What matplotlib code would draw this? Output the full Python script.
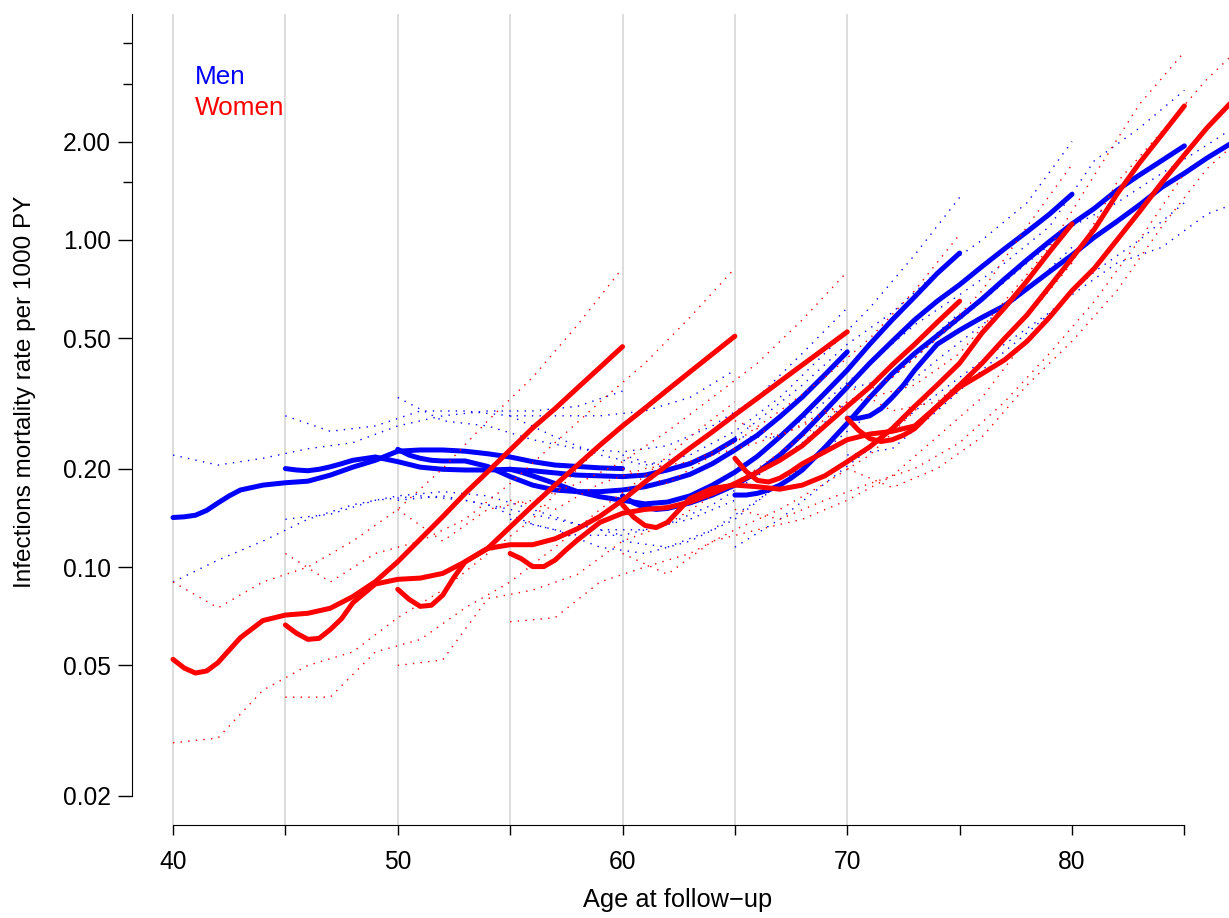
import numpy as np
import matplotlib
matplotlib.use("Agg")
import matplotlib.pyplot as plt

plt.rcParams['font.family'] = ['Liberation Sans', 'DejaVu Sans']

#------------------------------------------DATA-------------------------------------------
# age at entry of each curve (same for men and women)
starts = [40, 45, 50, 55, 60, 65, 70]

# years since entry at which the rates were read (half years at first, then whole years)
offs = [0, 0.5, 1, 1.5, 2, 2.5, 3] + list(range(4, 21))

# estimated rate per 1000 PY at age start + offs
men_rate = [
    [0.1417, 0.1424, 0.144, 0.149, 0.157, 0.165, 0.172, 0.178, 0.181, 0.183, 0.191, 0.202, 0.212, 0.226, 0.228, 0.228, 0.226, 0.222, 0.217, 0.210, 0.205, 0.203, 0.201, 0.200],
    [0.200, 0.198, 0.197, 0.199, 0.2025, 0.207, 0.212, 0.217, 0.210, 0.202, 0.199, 0.198, 0.198, 0.199, 0.197, 0.194, 0.191, 0.190, 0.189, 0.191, 0.198, 0.207, 0.223, 0.245],
    [0.229, 0.220, 0.215, 0.212, 0.211, 0.211, 0.211, 0.203, 0.189, 0.178, 0.172, 0.170, 0.170, 0.172, 0.176, 0.183, 0.192, 0.207, 0.228, 0.253, 0.288, 0.331, 0.387, 0.455],
    [0.199, 0.195, 0.190, 0.185, 0.180, 0.175, 0.170, 0.164, 0.160, 0.156, 0.158, 0.165, 0.178, 0.195, 0.218, 0.250, 0.290, 0.340, 0.400, 0.480, 0.570, 0.670, 0.790, 0.912],
    [0.165, 0.157, 0.152, 0.150, 0.151, 0.154, 0.157, 0.166, 0.178, 0.195, 0.220, 0.255, 0.300, 0.355, 0.420, 0.490, 0.570, 0.650, 0.730, 0.830, 0.940, 1.060, 1.200, 1.380],
    [0.166, 0.166, 0.168, 0.172, 0.178, 0.187, 0.198, 0.232, 0.275, 0.330, 0.390, 0.450, 0.510, 0.580, 0.660, 0.760, 0.870, 0.990, 1.120, 1.250, 1.420, 1.580, 1.750, 1.940],
    [0.285, 0.285, 0.290, 0.305, 0.330, 0.360, 0.400, 0.480, 0.530, 0.580, 0.630, 0.710, 0.800, 0.900, 1.020, 1.140, 1.280, 1.450, 1.600, 1.780, 1.960, 2.150],
]
women_rate = [
    [0.0522, 0.0491, 0.0474, 0.0481, 0.0510, 0.0557, 0.0608, 0.0686, 0.0713, 0.0722, 0.0748, 0.0812, 0.0902, 0.1038, 0.1216, 0.1425, 0.168, 0.1955, 0.228, 0.266, 0.305, 0.353, 0.408, 0.472],
    [0.0665, 0.0627, 0.0601, 0.0605, 0.0644, 0.0695, 0.0777, 0.0887, 0.0917, 0.0925, 0.0956, 0.1038, 0.114, 0.1325, 0.154, 0.178, 0.205, 0.236, 0.270, 0.306, 0.348, 0.395, 0.448, 0.508],
    [0.0855, 0.0797, 0.0758, 0.0764, 0.0820, 0.0930, 0.1038, 0.114, 0.117, 0.117, 0.122, 0.131, 0.143, 0.160, 0.182, 0.205, 0.231, 0.259, 0.292, 0.328, 0.369, 0.415, 0.466, 0.524],
    [0.110, 0.106, 0.1003, 0.1003, 0.105, 0.113, 0.121, 0.137, 0.146, 0.150, 0.152, 0.158, 0.168, 0.180, 0.195, 0.212, 0.235, 0.270, 0.310, 0.355, 0.415, 0.480, 0.560, 0.650],
    [0.155, 0.142, 0.134, 0.132, 0.137, 0.149, 0.162, 0.174, 0.178, 0.176, 0.173, 0.178, 0.190, 0.210, 0.233, 0.265, 0.310, 0.360, 0.420, 0.520, 0.620, 0.750, 0.920, 1.120],
    [0.215, 0.196, 0.184, 0.182, 0.187, 0.196, 0.207, 0.225, 0.245, 0.255, 0.260, 0.270, 0.310, 0.360, 0.420, 0.500, 0.590, 0.720, 0.880, 1.080, 1.380, 1.720, 2.100, 2.570],
    [0.285, 0.262, 0.247, 0.242, 0.245, 0.253, 0.265, 0.310, 0.355, 0.390, 0.430, 0.490, 0.580, 0.700, 0.820, 1.000, 1.220, 1.500, 1.820, 2.200, 2.600, 3.000],
]

# 95% limits, every second year of age from age at entry
men_hi = [
    [0.22, 0.205, 0.215, 0.23, 0.24, 0.27, 0.29, 0.30, 0.30, 0.31, 0.345],
    [0.29, 0.26, 0.27, 0.30, 0.30, 0.29, 0.29, 0.29, 0.30, 0.33, 0.40],
    [0.33, 0.28, 0.27, 0.245, 0.23, 0.225, 0.235, 0.27, 0.33, 0.45, 0.62],
    [0.29, 0.25, 0.22, 0.205, 0.22, 0.26, 0.33, 0.45, 0.62, 0.90, 1.35],
    [0.22, 0.20, 0.22, 0.28, 0.36, 0.48, 0.60, 0.80, 1.00, 1.30, 2.00],
    [0.25, 0.25, 0.32, 0.42, 0.55, 0.68, 0.85, 1.10, 1.75, 2.20, 2.87],
    [0.35, 0.38, 0.50, 0.65, 0.85, 1.10, 1.30, 1.60, 1.95, 2.40, 2.90],
]
men_lo = [
    [0.09, 0.105, 0.12, 0.14, 0.155, 0.165, 0.17, 0.165, 0.15, 0.135, 0.125],
    [0.14, 0.145, 0.16, 0.165, 0.16, 0.15, 0.14, 0.13, 0.13, 0.14, 0.16],
    [0.16, 0.165, 0.155, 0.135, 0.125, 0.125, 0.135, 0.155, 0.19, 0.24, 0.32],
    [0.14, 0.13, 0.115, 0.11, 0.12, 0.14, 0.18, 0.23, 0.33, 0.45, 0.60],
    [0.12, 0.115, 0.13, 0.16, 0.20, 0.26, 0.33, 0.43, 0.55, 0.70, 0.95],
    [0.115, 0.14, 0.18, 0.23, 0.30, 0.38, 0.48, 0.60, 0.80, 1.00, 1.30],
    [0.22, 0.23, 0.30, 0.40, 0.52, 0.68, 0.85, 0.95, 1.20, 1.35, 1.45],
]
women_hi = [
    [0.09, 0.075, 0.09, 0.10, 0.12, 0.15, 0.20, 0.28, 0.38, 0.55, 0.82],
    [0.11, 0.09, 0.11, 0.12, 0.14, 0.18, 0.24, 0.32, 0.42, 0.58, 0.82],
    [0.15, 0.12, 0.15, 0.16, 0.18, 0.21, 0.26, 0.33, 0.42, 0.57, 0.80],
    [0.16, 0.15, 0.18, 0.20, 0.21, 0.24, 0.30, 0.38, 0.50, 0.70, 1.04],
    [0.20, 0.18, 0.22, 0.24, 0.27, 0.32, 0.38, 0.50, 0.70, 1.10, 1.70],
    [0.28, 0.25, 0.30, 0.33, 0.36, 0.45, 0.65, 0.95, 1.58, 2.60, 3.76],
    [0.36, 0.30, 0.32, 0.42, 0.58, 0.85, 1.50, 2.15, 3.10, 4.20],
]
women_lo = [
    [0.029, 0.030, 0.042, 0.050, 0.055, 0.070, 0.085, 0.11, 0.14, 0.20, 0.27],
    [0.040, 0.040, 0.055, 0.060, 0.075, 0.090, 0.115, 0.15, 0.19, 0.25, 0.32],
    [0.050, 0.052, 0.080, 0.085, 0.095, 0.12, 0.135, 0.165, 0.20, 0.25, 0.32],
    [0.068, 0.070, 0.090, 0.10, 0.11, 0.13, 0.15, 0.18, 0.22, 0.30, 0.42],
    [0.11, 0.095, 0.12, 0.13, 0.14, 0.16, 0.19, 0.25, 0.33, 0.50, 0.70],
    [0.15, 0.14, 0.16, 0.18, 0.20, 0.24, 0.32, 0.45, 0.65, 1.00, 1.60],
    [0.20, 0.175, 0.20, 0.25, 0.36, 0.49, 0.70, 1.10, 1.65, 2.20],
]

y_ticks = [0.02, 0.05, 0.1, 0.2, 0.5, 1, 2]
y_labels = ["0.02", "0.05", "0.10", "0.20", "0.50", "1.00", "2.00"]
y_minor = [1.5, 3, 4]
x_ticks = [40, 50, 60, 70, 80]
x_minor = [45, 55, 65, 75, 85]
grid_ages = [40, 45, 50, 55, 60, 65, 70]

#-----------------------------------------PLOT--------------------------------------------
W, H = 1229, 918
fig = plt.figure(figsize=(W / 100, H / 100), dpi=100)
ax = fig.add_axes([132 / W, 93 / H, 1097 / W, 811 / H])
ax.set_yscale('log')
ax.set_xlim(38.176, 86.985)
ax.set_ylim(0.01626, 4.91)

for a in grid_ages:
    ax.axvline(a, color='#d3d3d3', lw=1.1, zorder=0)


def draw_sex(rates, lo, hi, col):
    for s, r, l, h in zip(starts, rates, lo, hi):
        ages = s + np.array(offs[:len(r)])
        ci_ages = s + 2 * np.arange(len(l))
        ax.plot(ci_ages, l, color=col, lw=1.0, ls=(0, (1, 4.5)))
        ax.plot(ci_ages, h, color=col, lw=1.0, ls=(0, (1, 4.5)))
        ax.plot(ages, r, color=col, lw=3.6, solid_capstyle='round', solid_joinstyle='round')


draw_sex(men_rate, men_lo, men_hi, '#0000ff')
draw_sex(women_rate, women_lo, women_hi, '#ff0000')

ax.set_yticks(y_ticks)
ax.set_yticklabels(y_labels)
ax.set_yticks(y_minor, minor=True)
ax.yaxis.set_minor_formatter(matplotlib.ticker.NullFormatter())
ax.set_xticks(x_ticks)
ax.set_xticks(x_minor, minor=True)

ax.tick_params(axis='y', which='major', length=10, width=1, labelsize=17.7, pad=5)
ax.tick_params(axis='y', which='minor', length=6.5, width=1)
ax.tick_params(axis='x', which='both', length=7, width=1, labelsize=17.7, pad=11)

for side in ['top', 'right']:
    ax.spines[side].set_visible(False)
ax.spines['left'].set_bounds(0.02, 4.91)
ax.spines['bottom'].set_bounds(40, 85)

fig.text(678 / W, 1 - 900 / H, 'Age at follow\u2212up', fontsize=18.3, ha='center', va='center')
fig.text(25 / W, 1 - 392 / H, 'Infections mortality rate per 1000 PY', fontsize=17.5,
         rotation=90, ha='center', va='center')

ax.text(40.98, 3.15, 'Men', color='#0000ff', fontsize=18.8, va='center', ha='left')
ax.text(40.98, 2.53, 'Women', color='#ff0000', fontsize=18.8, va='center', ha='left')

fig.savefig('out.png', dpi=100)
